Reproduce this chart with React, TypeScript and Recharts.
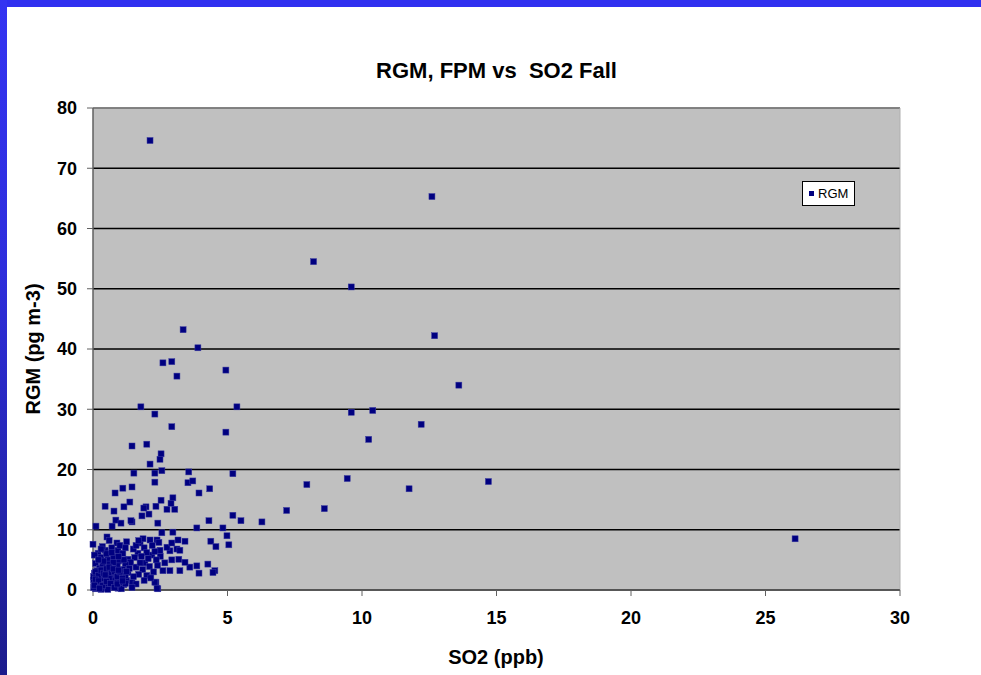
import React from 'react'
import {
  ScatterChart,
  Scatter,
  XAxis,
  YAxis,
  CartesianGrid,
  Legend,
  ReferenceLine,
} from 'recharts'

// SO2 (ppb) readings, x axis
const so2 = [
  2.12, 12.6, 8.2, 9.6, 3.35, 12.7, 3.9, 2.6, 2.93, 3.12, 4.94, 13.6, 1.78, 5.35, 10.4, 9.6, 2.3, 12.2, 2.93, 4.94,
  10.25, 1.45, 2.0, 2.53, 2.49, 2.12, 1.52, 2.3, 2.56, 2.3, 3.56, 3.53, 3.71, 4.34, 3.94, 5.2, 9.45, 7.95, 14.7, 11.75,
  8.6, 7.2, 26.1, 1.11, 1.45, 0.82, 2.97, 2.53, 2.9, 3.04, 2.75, 2.34, 1.97, 2.08, 1.82, 1.89, 1.37, 1.15, 0.45, 0.78,
  2.41, 1.45, 0.85, 1.04, 0.71, 0.11, 4.31, 5.2, 5.5, 6.28, 3.86, 4.83, 4.98, 5.05, 4.38, 4.57, 3.42, 2.97, 2.56, 4.27,
  3.86, 3.6, 3.94, 4.53, 4.46, 3.23, 2.86, 2.6, 3.42, 3.19, 2.93, 2.34, 2.41, 2.86, 3.12, 2.75, 3.16, 2.93, 3.23, 1.41,
  0.0, 0.52, 0.45, 0.19, 0.89, 0.93, 1.11, 1.3, 1.75, 1.86, 2.12, 2.38, 2.49, 1.67, 2.19, 1.93, 2.67, 2.3, 2.38, 0.93,
  1.45, 0.6, 0.35, 0.7, 1.0, 1.2, 1.5, 1.6, 1.9, 2.0, 2.2, 2.45, 2.3, 2.05, 1.8, 1.55, 1.4, 1.2, 1.6, 1.85,
  2.1, 2.4, 2.25, 2.0, 1.7, 1.5, 1.3, 1.1, 0.95, 0.75, 0.55, 0.3, 0.1, 0.25, 0.45, 0.65, 0.85, 1.05, 1.25, 1.6,
  1.9, 2.15, 0.05, 0.15, 0.35, 0.55, 0.75, 0.95, 1.15, 0.05, 0.2, 0.4, 0.6, 0.8, 0.3, 0.5, 0.7, 0.1, 0.25, 0.45,
  0.65, 0.85, 1.0, 0.15, 0.35, 0.05, 0.6, 0.9, 1.15, 1.35, 1.75, 2.5, 2.35, 1.45, 1.05, 0.55, 0.3, 0.02, 0.02, 0.02,
  0.12, 0.4, 1.2, 0.75, 0.5, 1.7, 1.25, 0.1, 0.2, 0.3, 0.4, 0.5, 0.6, 0.7, 0.8, 0.9, 1.0, 1.1, 1.2,
  0.1, 0.2, 0.35, 0.5, 0.65, 0.8, 0.9, 1.1, 0.05, 0.25, 0.45, 0.6, 0.75, 0.95, 1.25, 0.4, 0.2, 0.7, 0.95, 0.3,
]

// RGM (pg m-3) readings, y axis
const rgm = [
  74.6, 65.3, 54.5, 50.3, 43.2, 42.2, 40.2, 37.7, 37.9, 35.5, 36.5, 34.0, 30.4, 30.4, 29.8, 29.5, 29.2, 27.5, 27.1, 26.2,
  25.0, 23.9, 24.2, 22.6, 21.7, 20.9, 19.4, 19.4, 19.8, 17.9, 19.6, 17.8, 18.1, 16.8, 16.1, 19.3, 18.5, 17.5, 18.0, 16.8,
  13.5, 13.2, 8.5, 16.9, 17.1, 16.1, 15.3, 14.9, 14.4, 13.4, 13.4, 13.9, 13.8, 12.6, 12.3, 13.6, 14.6, 13.8, 13.9, 13.1,
  11.1, 11.3, 11.6, 11.1, 10.6, 10.6, 11.5, 12.4, 11.5, 11.3, 10.3, 10.3, 9.0, 7.5, 8.1, 7.2, 8.1, 9.6, 9.5, 4.3,
  4.0, 3.8, 2.8, 3.2, 2.9, 3.2, 3.2, 3.2, 4.6, 5.1, 5.0, 1.3, 0.2, 6.5, 6.8, 7.1, 8.3, 7.8, 6.6, 11.5,
  7.6, 8.8, 6.6, 6.1, 7.8, 6.6, 6.1, 5.1, 7.8, 8.5, 8.3, 8.3, 6.6, 6.1, 5.8, 4.5, 4.5, 1.3, 0.3, 0.3,
  1.2, 8.2, 7.2, 7.0, 7.4, 7.0, 6.8, 7.4, 7.0, 6.2, 7.4, 7.9, 6.4, 5.2, 5.6, 5.4, 4.6, 4.2, 3.8, 3.4,
  3.9, 4.1, 3.0, 2.4, 2.6, 2.2, 2.9, 3.4, 4.8, 5.5, 5.0, 5.4, 4.4, 3.6, 3.9, 3.2, 2.8, 2.3, 1.6, 1.0,
  1.6, 2.0, 2.8, 2.1, 1.6, 1.2, 0.8, 1.4, 0.9, 1.0, 0.5, 0.3, 0.6, 1.9, 2.6, 2.2, 1.7, 0.2, 1.2, 0.9,
  2.5, 3.6, 1.2, 3.2, 4.4, 5.8, 4.3, 4.0, 5.0, 3.6, 4.5, 5.6, 5.0, 0.4, 0.2, 0.1, 0.1, 0.4, 1.6, 2.2,
  1.4, 1.9, 2.4, 4.6, 6.0, 8.2, 8.0, 3.0, 2.4, 3.3, 2.8, 3.5, 2.0, 2.9, 3.1, 2.2, 3.0, 1.9, 1.1,
  1.8, 1.5, 0.7, 1.4, 1.1, 0.4, 1.0, 1.5, 0.8, 0.3, 2.5, 3.8, 3.5, 3.3, 3.1, 4.8, 5.0, 6.2, 5.6, 6.8,
]

const xTicks = [0, 5, 10, 15, 20, 25, 30]
const yTicks = [0, 10, 20, 30, 40, 50, 60, 70, 80]

const points = so2.map((x, i) => ({ x, y: rgm[i] }))

const FONT = "'Liberation Sans', Arial, sans-serif"
const NAVY = '#000080'

function SquareDot(props: { cx?: number; cy?: number }) {
  const { cx = 0, cy = 0 } = props
  return <rect x={cx - 3} y={cy - 3} width={6} height={6} fill={NAVY} stroke="#3a3aa0" strokeWidth={0.5} />
}

function LegendBox() {
  return (
    <div
      style={{
        background: '#fff',
        border: '1px solid #000',
        padding: '2px 6px 2px 6px',
        display: 'flex',
        alignItems: 'center',
        gap: 4,
        fontFamily: FONT,
        fontSize: 13,
        color: '#000',
        lineHeight: '19px',
      }}
    >
      <span style={{ width: 5, height: 5, background: NAVY, display: 'inline-block' }} />
      <span>RGM</span>
    </div>
  )
}

export default function App() {
  return (
    <div style={{ position: 'absolute', left: 0, top: 0, width: 981, height: 675, background: '#fff', overflow: 'hidden' }}>
      <div style={{ position: 'absolute', left: 0, top: 0, width: 981, height: 7, background: '#3030F0' }} />
      <div
        style={{
          position: 'absolute',
          left: 0,
          top: 0,
          width: 7,
          height: 675,
          background: 'linear-gradient(to bottom, #3434F2 0%, #2E2EDC 40%, #1C1C8C 100%)',
        }}
      />
      <div
        style={{
          position: 'absolute',
          left: 93,
          top: 58,
          width: 807,
          textAlign: 'center',
          fontFamily: FONT,
          fontWeight: 'bold',
          fontSize: 22,
          lineHeight: '26px',
          whiteSpace: 'pre',
          color: '#000',
        }}
      >
        {'RGM, FPM vs  SO2 Fall'}
      </div>
      <ScatterChart width={981} height={675} margin={{ top: 108, right: 81, bottom: 0, left: 0 }} style={{ position: 'absolute', left: 0, top: 0 }}>
        <CartesianGrid vertical={false} fill="#C0C0C0" stroke="#000" strokeWidth={1.3} fillOpacity={1} />
        <ReferenceLine y={80} stroke="#9a9a9a" strokeWidth={1.5} />
        <ReferenceLine x={30} stroke="#b0b0b0" strokeWidth={1} />
        <XAxis
          type="number"
          dataKey="x"
          domain={[0, 30]}
          ticks={xTicks}
          height={85}
          tickSize={6}
          tickMargin={15}
          interval={0}
          axisLine={{ stroke: '#606060', strokeWidth: 1.5 }}
          tickLine={{ stroke: '#606060' }}
          tick={{ fill: '#000', fontSize: 18, fontWeight: 'bold', fontFamily: FONT }}
          label={{
            content: () => (
              <text x={496} y={664} textAnchor="middle" fontFamily={FONT} fontWeight="bold" fontSize={20} fill="#000">
                SO2 (ppb)
              </text>
            ),
          }}
        />
        <YAxis
          type="number"
          dataKey="y"
          domain={[0, 80]}
          ticks={yTicks}
          width={93}
          tickSize={6}
          tickMargin={10}
          interval={0}
          axisLine={{ stroke: '#606060', strokeWidth: 1.5 }}
          tickLine={{ stroke: '#606060' }}
          tick={{ fill: '#000', fontSize: 18, fontWeight: 'bold', fontFamily: FONT }}
          label={{
            content: () => (
              <text
                x={40}
                y={349}
                transform="rotate(-90 40 349)"
                textAnchor="middle"
                fontFamily={FONT}
                fontWeight="bold"
                fontSize={20}
                fill="#000"
              >
                RGM (pg m-3)
              </text>
            ),
          }}
        />
        <Legend
          layout="horizontal"
          align="center"
          verticalAlign="middle"
          content={<LegendBox />}
          wrapperStyle={{ top: 181, left: 802, width: 'auto', height: 'auto' }}
        />
        <Scatter name="RGM" data={points} shape={<SquareDot />} isAnimationActive={false} />
      </ScatterChart>
    </div>
  )
}
